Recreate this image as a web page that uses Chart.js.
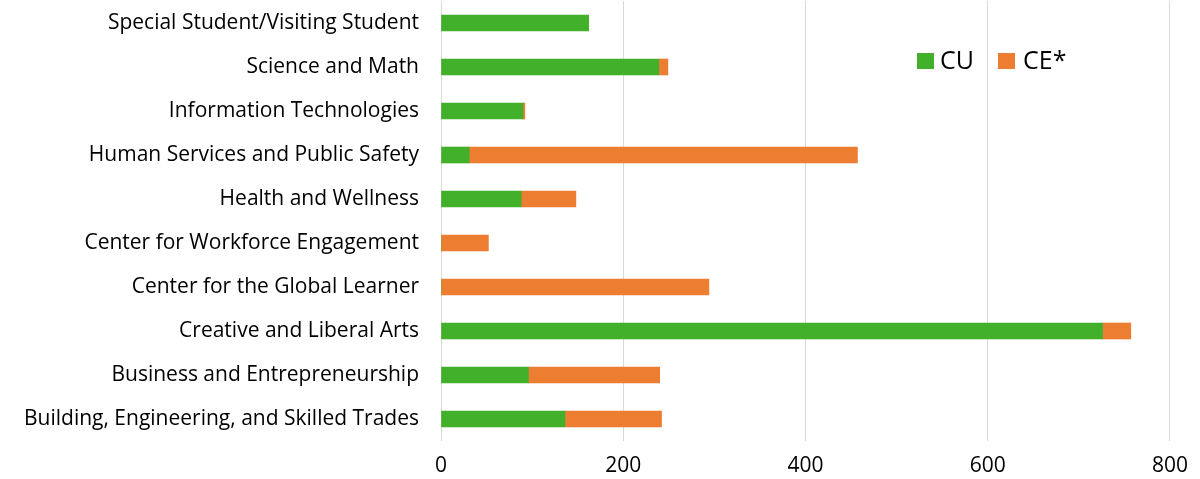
<!DOCTYPE html>
<html>
<head>
<meta charset="utf-8">
<script src="https://cdn.jsdelivr.net/npm/chart.js@4"></script>
<style>
    html, body { margin: 0; padding: 0; background: #fff; }
    #contenedor { width: 1200px; height: 479px; }
</style>
</head>
<body>
<div id="contenedor"><canvas id="grafica-divisiones"></canvas></div>
<script>
// ============================================
// DATOS
// ============================================

const divisiones = [
    'Special Student/Visiting Student',
    'Science and Math',
    'Information Technologies',
    'Human Services and Public Safety',
    'Health and Wellness',
    'Center for Workforce Engagement',
    'Center for the Global Learner',
    'Creative and Liberal Arts',
    'Business and Entrepreneurship',
    'Building, Engineering, and Skilled Trades'
];

const valoresCU = [162, 239, 90, 31, 88, 0, 0, 726, 96, 136];
const valoresCE = [0, 10, 2, 426, 60, 52, 294, 31, 144, 106];

const ticksX = [0, 200, 400, 600, 800];

const FUENTE = "'Open Sans', 'Liberation Sans', sans-serif";

// Leyenda dibujada a mano dentro del área del gráfico
const leyendaManual = {
    id: 'leyendaManual',
    afterDraw(chart) {
        const ctx = chart.ctx;
        const posiciones = [{ caja: 917, texto: 940 }, { caja: 998, texto: 1023 }];
        ctx.save();
        ctx.font = '25px ' + FUENTE;
        ctx.textBaseline = 'middle';
        chart.data.datasets.forEach(function(ds, i) {
            const p = posiciones[i];
            ctx.fillStyle = ds.backgroundColor;
            ctx.fillRect(p.caja, 53, 17, 16);
            ctx.fillStyle = '#000';
            ctx.fillText(ds.label, p.texto, 62);
        });
        ctx.restore();
    }
};

// ============================================
// GRÁFICA
// ============================================

const ctx = document.getElementById('grafica-divisiones').getContext('2d');
const chart = new Chart(ctx, {
    type: 'bar',
    data: {
        labels: divisiones,
        datasets: [
            {
                label: 'CU',
                data: valoresCU,
                backgroundColor: '#43B02C',
                barThickness: 16
            },
            {
                label: 'CE*',
                data: valoresCE,
                backgroundColor: '#ED7D31',
                barThickness: 16
            }
        ]
    },
    options: {
        indexAxis: 'y',
        responsive: true,
        maintainAspectRatio: false,
        animation: false,
        layout: {
            padding: { top: 1, right: 26, bottom: 0, left: 0 }
        },
        plugins: {
            legend: { display: false },
            tooltip: { enabled: false }
        },
        scales: {
            x: {
                stacked: true,
                min: 0,
                max: 800,
                afterBuildTicks: function(scale) {
                    scale.ticks = ticksX.map(v => ({ value: v }));
                },
                afterFit: function(scale) { scale.height = 38; },
                grid: {
                    color: '#D9D9D9',
                    lineWidth: 1,
                    drawTicks: false
                },
                border: { display: false },
                ticks: {
                    padding: 12,
                    color: '#000',
                    font: { family: FUENTE, size: 21 }
                }
            },
            y: {
                stacked: true,
                // ancho fijo y sin margen extra arriba/abajo
                afterFit: function(scale) {
                    scale.width = 441;
                    scale.paddingTop = 0;
                    scale.paddingBottom = 0;
                },
                grid: { display: false, drawTicks: false },
                border: { display: false },
                ticks: {
                    padding: 22,
                    color: '#000',
                    font: { family: FUENTE, size: 21 }
                }
            }
        }
    },
    plugins: [leyendaManual]
});
</script>
</body>
</html>
